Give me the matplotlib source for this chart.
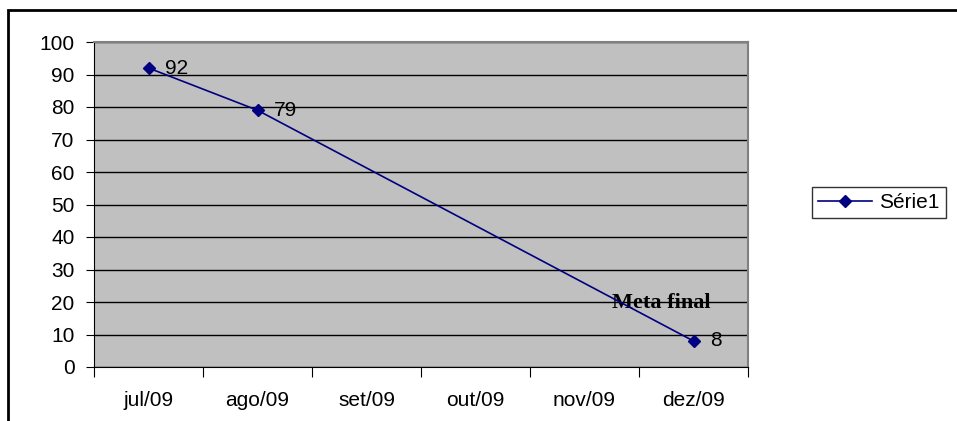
import matplotlib.pyplot as plt
from matplotlib.patches import Rectangle

months = ['jul/09', 'ago/09', 'set/09', 'out/09', 'nov/09', 'dez/09']
values = [92, 79, None, None, None, 8]
y_ticks = list(range(0, 101, 10))

plt.rcParams['font.family'] = ['Liberation Sans', 'DejaVu Sans']
fs = 15

W, H = 957, 421
fig = plt.figure(figsize=(W / 100, H / 100), dpi=100)

# outer chart border (Excel chart area), right and bottom edges fall off the picture
fig.patches.append(Rectangle((8 / W, -0.2), 1.2, 1.2 - 10 / H, transform=fig.transFigure,
                             fill=False, edgecolor='black', linewidth=2))

ax = fig.add_axes([94 / W, 1 - 367 / H, (748 - 94) / W, (367 - 42) / H])
ax.set_facecolor('#c0c0c0')

xs = [i for i, v in enumerate(values) if v is not None]
ys = [v for v in values if v is not None]
line, = ax.plot(xs, ys, color='#000080', linewidth=1.2, marker='D', markersize=6.5,
                label='Série1', zorder=3)
for x, y in zip(xs, ys):
    ax.annotate(str(y), (x, y), xytext=(12, 0), textcoords='offset points',
                va='center', ha='left', fontsize=fs)

ax.text(4.7, 19.7, 'Meta final', family='Liberation Serif', fontweight='bold',
        fontsize=16, ha='center', va='center', zorder=2)

ax.set_xlim(-0.5, 5.5)
ax.set_ylim(0, 100)
ax.set_yticks(y_ticks)
ax.tick_params(axis='y', labelsize=fs, length=6, direction='out', pad=8)
ax.set_xticks([i + 0.5 for i in range(-1, 6)])
ax.set_xticklabels([])
ax.set_xticks(range(6), minor=True)
ax.set_xticklabels(months, minor=True)
ax.tick_params(axis='x', which='major', length=7, direction='out')
ax.tick_params(axis='x', which='minor', length=0, labelsize=fs, pad=17)
ax.grid(axis='y', color='black', linewidth=1)
ax.set_axisbelow(True)
for side in ['top', 'right']:
    ax.spines[side].set_color('#808080')
    ax.spines[side].set_linewidth(1.5)
for side in ['left', 'bottom']:
    ax.spines[side].set_color('black')

leg = fig.legend(handles=[line], loc='upper left', bbox_to_anchor=(812 / W, 1 - 187 / H),
                 fontsize=fs, frameon=True, fancybox=False, borderaxespad=0,
                 handlelength=2.6, borderpad=0.28, handletextpad=0.35)
leg.get_frame().set_edgecolor('black')
leg.get_frame().set_linewidth(1)

fig.savefig('out.png', dpi=100)
